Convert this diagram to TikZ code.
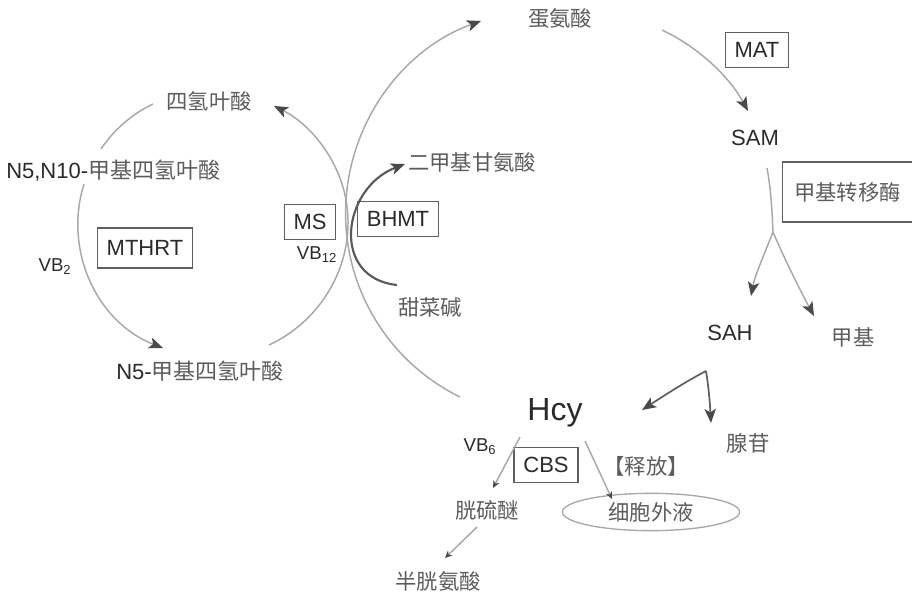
\documentclass[tikz,border=0pt]{standalone}
\usepackage{fontspec}
\setmainfont{Liberation Sans}
\newfontfamily\zhfont{Noto Sans CJK SC}
\usepackage{tikz}
\usetikzlibrary{arrows.meta,shapes.geometric}

\definecolor{linegray}{HTML}{A8A8A8}
\definecolor{tipgray}{HTML}{4A4A4A}
\definecolor{boxgray}{HTML}{606060}
\definecolor{txtdark}{HTML}{2A2A2A}
\definecolor{zhgray}{HTML}{5C5C5C}

\tikzset{
  cyc/.style={draw=linegray, line width=1.1pt},
  darkline/.style={draw=gray!75!black, line width=1.3pt},
  bhmtline/.style={draw=gray!70!black, line width=1.6pt},
  tip/.style={-{Stealth[length=10.5pt,width=8.5pt,inset=2.5pt,color=tipgray]}},
  smalltip/.style={-{Stealth[length=5.5pt,width=5pt,color=tipgray]}},
  lbl/.style={inner sep=0.75pt, text=txtdark, font=\fontsize{16.5}{18}\selectfont},
  zh/.style={inner sep=0.75pt, text=zhgray, font=\zhfont\fontsize{16}{18}\selectfont},
  enz/.style={draw=boxgray, line width=0.9pt, inner xsep=7pt, minimum height=26pt, text=txtdark, font=\fontsize{16.5}{18}\selectfont},
  vb/.style={inner sep=0.75pt, text=txtdark, font=\fontsize{14}{16}\selectfont},
  ecfshape/.style={ellipse, draw=linegray, line width=1pt, minimum width=133pt, minimum height=28pt, inner sep=0pt, text=zhgray, font=\zhfont\fontsize{16}{18}\selectfont}
}

\begin{document}
\begin{tikzpicture}[x=0.75pt,y=0.75pt,yscale=-1,xscale=1]
\useasboundingbox (0,0) rectangle (912,595);

% Text Node: right cycle
\node[zh] (met) at (560,19) {蛋氨酸};
\node[enz] (mat) at (757,50) {MAT};
\node[lbl] (sam) at (755,138) {SAM};
\node[enz, anchor=west, minimum width=97.5pt, minimum height=45pt, font=\zhfont\fontsize{16}{18}\selectfont, text=zhgray] (mtase) at (782,192) {甲基转移酶};
\node[lbl] (sah) at (730,333) {SAH};
\node[zh] (methyl) at (853,337) {甲基};
\node[zh] (ado) at (748,443) {腺苷};
\node[lbl, font=\fontsize{24}{26}\selectfont] (hcy) at (555,413) {Hcy};
\node[vb] (vb6) at (480,447) {VB\textsubscript{6}};
\node[enz] (cbs) at (546,465) {CBS};
\node[zh] (release) at (646,466) {【释放】};
\node[ecfshape] (ecf) at (651,512) {细胞外液};
\node[zh] (cysta) at (487,510) {胱硫醚};
\node[zh] (cys) at (438,581) {半胱氨酸};

% Text Node: left cycle
\node[zh] (thf) at (209,101) {四氢叶酸};
\node[lbl, anchor=west] (mthf10) at (5,171) {N5,N10-{\zhfont\color{zhgray}甲基四氢叶酸}};
\node[enz, minimum height=30pt] (mthrt) at (145,248) {MTHRT};
\node[vb] (vb2) at (55,267) {VB\textsubscript{2}};
\node[lbl] (mthf5) at (200,371) {N5-{\zhfont\color{zhgray}甲基四氢叶酸}};
\node[enz] (ms) at (310,222) {MS};
\node[vb] (vb12) at (317,255) {VB\textsubscript{12}};
\node[enz] (bhmt) at (398,219) {BHMT};
\node[zh] (dmg) at (472,162) {二甲基甘氨酸};
\node[zh] (betaine) at (430,307) {甜菜碱};

% free ends of the curves
\coordinate (cross) at (346,200);
\coordinate (hcyin) at (460,397);
\coordinate (metin) at (481,21);
\coordinate (thfin) at (274,106);
\coordinate (thfout) at (153,104);
\coordinate (n10in) at (101,149);
\coordinate (n10out) at (84,184);
\coordinate (n5in) at (163,348);
\coordinate (n5out) at (269,345);
\coordinate (betout) at (397,285);
\coordinate (dmgin) at (405,164);
\coordinate (metout) at (662,30);
\coordinate (samin) at (748,111);
\coordinate (samout) at (767,168);
\coordinate (samfork) at (773,232);
\coordinate (sahin) at (751,296);
\coordinate (methylin) at (814,316);
\coordinate (sahout) at (706,371);
\coordinate (hcyto) at (642,410);
\coordinate (adoin) at (711,423);
\coordinate (hcycs) at (520,437);
\coordinate (cystain) at (493,488);
\coordinate (cystaout) at (477,527);
\coordinate (cysin) at (445,558);
\coordinate (hcyrel) at (585,441);
\coordinate (ecfin) at (612,499);

% folate cycle
\draw[cyc,tip] (cross) .. controls (338.7,159.4) and (310.9,124.6) .. (thfin);
\draw[cyc] (thfout) .. controls (132.2,113.9) and (114,129.6) .. (n10in);
\draw[cyc,tip] (n10out) .. controls (63.1,250.7) and (97.3,322.5) .. (n5in);
\draw[cyc] (n5out) .. controls (323.7,319.7) and (356.8,259.8) .. (cross);

% methionine cycle
\draw[cyc] (hcyin) .. controls (385.6,360.5) and (340.6,282.7) .. (cross);
\draw[cyc,tip] (cross) .. controls (351.3,118.8) and (404.4,48.5) .. (metin);
\draw[bhmtline,tip] (betout) .. controls (330,278) and (342,188) .. (dmgin);
\draw[cyc,tip] (metout) .. controls (700,48) and (730,78) .. (samin);
\draw[cyc] (samout) .. controls (771,190) and (772,210) .. (samfork);
\draw[cyc,tip] (samfork) .. controls (764,255) and (755,275) .. (sahin);
\draw[cyc,tip] (samfork) .. controls (785,260) and (800,290) .. (methylin);
\draw[darkline,tip] (sahout) .. controls (685,382) and (665,395) .. (hcyto);
\draw[darkline,tip] (sahout) .. controls (709,390) and (710,405) .. (adoin);

% Hcy outlets
\draw[cyc,smalltip] (hcycs) -- (cystain);
\draw[cyc,smalltip] (cystaout) -- (cysin);
\draw[cyc,smalltip] (hcyrel) -- (ecfin);
\end{tikzpicture}
\end{document}
